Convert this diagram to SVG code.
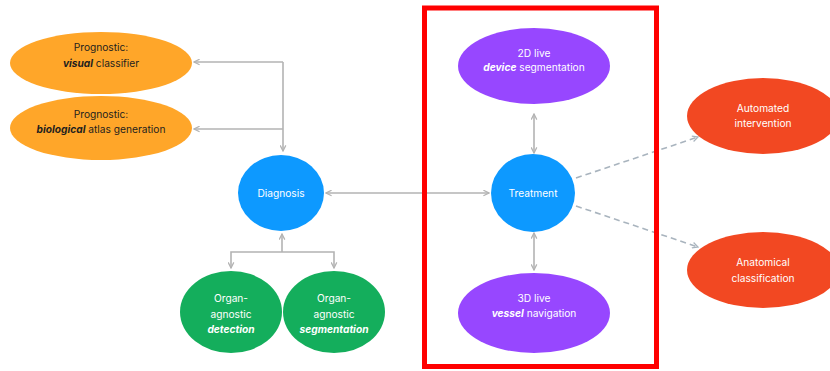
<svg xmlns="http://www.w3.org/2000/svg" width="830" height="371" viewBox="0 0 830 371">
<defs>
<style>
text{font-family:Inter,"Noto Sans",sans-serif;font-size:10.2px;text-anchor:middle}
.dk{fill:#1e1e1e}.wt{fill:#ffffff}
.b{font-weight:700;font-style:italic}
.c{fill:none;stroke:#b3b3b3;stroke-width:1.6}
.d{fill:none;stroke:#a9b4be;stroke-width:1.6;stroke-dasharray:6 4}
</style>
<marker id="ah" viewBox="0 0 10 10" refX="9" refY="5" markerWidth="7" markerHeight="7" orient="auto-start-reverse" markerUnits="userSpaceOnUse">
<path d="M1,1 L9,5 L1,9" fill="none" stroke="#b3b3b3" stroke-width="1.8"/>
</marker>
<marker id="ahd" viewBox="0 0 10 10" refX="9" refY="5" markerWidth="7" markerHeight="7" orient="auto" markerUnits="userSpaceOnUse">
<path d="M1,1 L9,5 L1,9" fill="none" stroke="#a9b4be" stroke-width="1.8"/>
</marker>
</defs>
<rect width="830" height="371" fill="#ffffff"/>
<g id="connectors">
<path class="c" d="M283,62 L194,62" marker-end="url(#ah)"/>
<path class="c" d="M283,129 L194,129" marker-end="url(#ah)"/>
<path class="c" d="M283,62 L283,151" marker-end="url(#ah)"/>
<path class="c" d="M489,193 L326,193" marker-start="url(#ah)" marker-end="url(#ah)"/>
<path class="c" d="M282,252 L282,234" marker-end="url(#ah)"/>
<path class="c" d="M282,252 L231,252 L231,268" marker-end="url(#ah)"/>
<path class="c" d="M282,252 L334,252 L334,268" marker-end="url(#ah)"/>
<path class="c" d="M534,114 L534,153" marker-start="url(#ah)" marker-end="url(#ah)"/>
<path class="c" d="M534,233 L534,270" marker-start="url(#ah)" marker-end="url(#ah)"/>
<path class="d" d="M576,178 L698,137" marker-end="url(#ahd)"/>
<path class="d" d="M576,206 L698,247" marker-end="url(#ahd)"/>
</g>
<g id="frame"><rect x="424.5" y="8" width="232" height="358.5" fill="none" stroke="#ff0000" stroke-width="5"/></g>
<g id="prog-visual">
<ellipse cx="101" cy="63" rx="91" ry="31" fill="#ffa629"/>
<text class="dk" x="101" y="51">Prognostic:</text>
<text class="dk" x="101" y="67"><tspan class="b">visual</tspan> classifier</text>
</g>
<g id="prog-bio">
<ellipse cx="101" cy="128" rx="91" ry="32" fill="#ffa629"/>
<text class="dk" x="101" y="118">Prognostic:</text>
<text class="dk" x="101" y="133"><tspan class="b">biological</tspan> atlas generation</text>
</g>
<g id="diagnosis">
<ellipse cx="281" cy="193" rx="43" ry="38" fill="#0d99ff"/>
<text class="wt" x="281" y="197">Diagnosis</text>
</g>
<g id="detection">
<ellipse cx="231" cy="312" rx="51" ry="41" fill="#14ae5c"/>
<text class="wt" x="231" y="302">Organ-</text>
<text class="wt" x="231" y="318">agnostic</text>
<text class="wt b" x="231" y="333">detection</text>
</g>
<g id="segmentation">
<ellipse cx="334" cy="312" rx="51" ry="41" fill="#14ae5c"/>
<text class="wt" x="334" y="302">Organ-</text>
<text class="wt" x="334" y="318">agnostic</text>
<text class="wt b" x="334" y="333">segmentation</text>
</g>
<g id="device">
<ellipse cx="534" cy="66" rx="76" ry="38" fill="#9747ff"/>
<text class="wt" x="534" y="57">2D live</text>
<text class="wt" x="534" y="71"><tspan class="b">device</tspan> segmentation</text>
</g>
<g id="treatment">
<ellipse cx="533" cy="193" rx="42" ry="39" fill="#0d99ff"/>
<text class="wt" x="533" y="197">Treatment</text>
</g>
<g id="vessel">
<ellipse cx="534" cy="313" rx="76" ry="40" fill="#9747ff"/>
<text class="wt" x="534" y="302">3D live</text>
<text class="wt" x="534" y="317"><tspan class="b">vessel</tspan> navigation</text>
</g>
<g id="automated">
<ellipse cx="763" cy="116" rx="76" ry="38" fill="#f24822"/>
<text class="wt" x="763" y="112">Automated</text>
<text class="wt" x="763" y="127">intervention</text>
</g>
<g id="anatomical">
<ellipse cx="763" cy="270" rx="76" ry="38" fill="#f24822"/>
<text class="wt" x="763" y="266">Anatomical</text>
<text class="wt" x="763" y="282">classification</text>
</g>
</svg>
